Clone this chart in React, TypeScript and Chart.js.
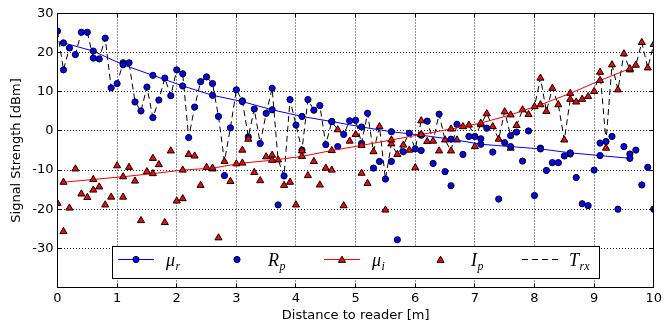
import React, { useEffect, useRef } from 'react';
import { Chart, registerables } from 'chart.js';
import { drawPoint } from 'chart.js/helpers';

Chart.register(...registerables);

// ---------- data ----------
const distances = [
  0, 0.1, 0.2, 0.3, 0.4, 0.5, 0.6, 0.7, 0.8, 0.9,
  1, 1.1, 1.2, 1.3, 1.4, 1.5, 1.6, 1.7, 1.8, 1.9,
  2, 2.1, 2.2, 2.3, 2.4, 2.5, 2.6, 2.7, 2.8, 2.9,
  3, 3.1, 3.2, 3.3, 3.4, 3.5, 3.6, 3.7, 3.8, 3.9,
  4, 4.1, 4.2, 4.3, 4.4, 4.5, 4.6, 4.7, 4.8, 4.9,
  5, 5.1, 5.2, 5.3, 5.4, 5.5, 5.6, 5.7, 5.8, 5.9,
  6, 6.1, 6.2, 6.3, 6.4, 6.5, 6.6, 6.7, 6.8, 6.9,
  7, 7.1, 7.2, 7.3, 7.4, 7.5, 7.6, 7.7, 7.8, 7.9,
  8, 8.1, 8.2, 8.3, 8.4, 8.5, 8.6, 8.7, 8.8, 8.9,
  9, 9.1, 9.2, 9.3, 9.4, 9.5, 9.6, 9.7, 9.8, 9.9,
  10,
];

const rpValues = [
  25.5, 15.6, 21.2, 19.5, 25.2, 25.2, 18.6, 18.4, 23.7, 11.0,
  12.1, 17.4, 17.4, 7.4, 5.1, 11.2, 3.4, 7.9, 13.5, 9.0,
  15.6, 14.6, -1.7, 6.1, 12.6, 13.8, 12.1, 3.7, -11.4, 0.8,
  10.5, 7.7, -1.5, 5.6, -3.2, 4.5, 10.9, -18.9, -11.5, 8.0,
  1.5, -4.9, 8.0, 5.3, 6.5, -3.5, 2.4, -4.0, -0.9, 2.6,
  2.7, -3.2, 4.5, -9.5, -7.8, -12.3, -7.8, -27.8, -5.3, -0.6,
  -4.6, -5.0, 2.5, -8.3, 4.3, -10.4, -14.0, 1.7, -6.0, -1.4,
  -1.4, -2.0, 0.7, -5.4, -17.4, -3.0, -1.2, -0.3, -7.7, 0.0,
  -16.5, -4.4, -10.1, -8.1, -8.1, -6.4, -5.9, -11.9, -18.6, -19.1,
  -10.0, -3.1, -2.7, -1.4, -20.0, -4.0, -5.9, -4.9, -13.8, -9.3,
  -20.0,
];

const ipValues = [
  -18.5, -25.7, -19.7, -9.7, -16.1, -17.0, -15.1, -14.3, -18.9, -16.9,
  -8.9, -16.9, -9.3, -12.8, -22.9, -10.4, -7.0, -8.6, -23.4, -5.1,
  -17.9, -17.3, -6.0, -6.4, -13.9, -9.3, -9.7, -27.3, -7.8, -12.9,
  -8.4, -4.9, -2.1, -10.6, -12.7, -6.6, -6.2, -7.4, -13.9, -13.1,
  -18.9, -5.1, -11.4, -7.8, -13.8, -9.5, -10.0, 0.3, -19.1, -2.6,
  -0.9, -10.8, -13.4, -5.3, 1.1, -20.2, -3.3, -6.0, -3.6, -4.9,
  -9.4, 2.6, -2.7, -2.6, -5.1, -2.3, -5.1, -2.3, 1.1, 1.5,
  -4.0, 1.6, 4.4, 1.1, -2.1, 4.9, -4.4, 1.4, 5.4, 4.2,
  6.2, 13.5, 5.0, 10.9, 6.7, -2.3, 8.1, 7.4, 8.1, 8.8,
  10.1, 15.0, -4.4, 16.9, 10.5, 19.7, 15.6, 16.8, 22.6, 16.1,
  22.1,
];

const meanDistances = [0.1, 0.6, 1.1, 1.6, 2.1, 2.6, 3.1, 3.6, 4.1, 4.6, 5.1, 5.6, 6.1, 6.6, 7.1, 7.6, 8.1, 8.6, 9.1, 9.6];
const muRValues = [22.5, 20.4, 16.9, 14.2, 11.5, 9.1, 7.5, 5.4, 3.7, 2.4, 1.0, -0.2, -1.1, -2.1, -3.4, -4.0, -4.6, -5.6, -6.3, -7.0];
const muIValues = [-13.1, -12.4, -11.7, -10.9, -10.0, -9.5, -8.2, -7.5, -6.5, -5.0, -3.7, -2.3, -0.9, 0.5, 2.0, 4.1, 6.7, 9.6, 12.9, 15.9];

const xTickValues = [0, 1, 2, 3, 4, 5, 6, 7, 8, 9, 10];
const yTickValues = [-40, -30, -20, -10, 0, 10, 20, 30];
const yTickLabels = ['', '-30', '-20', '-10', '0', '10', '20', '30'];

const xTitle = 'Distance to reader [m]';
const yTitle = 'Signal Strength [dBm]';

const legendLabels = [
  { main: 'μ', sub: 'r' },
  { main: 'R', sub: 'p' },
  { main: 'μ', sub: 'i' },
  { main: 'I', sub: 'p' },
  { main: 'T', sub: 'rx' },
];

// ---------- style ----------
const BLUE = '#0000ff';
const RED = '#ff0000';
const BLACK = '#000000';
const CIRCLE_R = 3.1;
const TRI_R = 4.1;
const TICK_FONT = { family: '"DejaVu Sans", sans-serif', size: 13 };

const toPoints = (xs: number[], ys: number[]) => xs.map((x, i) => ({ x, y: ys[i] }));
const trxValues = rpValues.map((r, i) => Math.max(r, ipValues[i]));

const align = (p: number) => Math.round(p - 0.5) + 0.5;

const framePlugin = {
  id: 'mplFrame',
  afterDatasetsDraw(chart: any) {
    const { ctx, chartArea: a, scales } = chart;
    ctx.save();
    ctx.strokeStyle = BLACK;
    ctx.lineWidth = 1;
    ctx.setLineDash([]);
    const L = align(a.left), R = align(a.right), T = align(a.top), B = align(a.bottom);
    ctx.strokeRect(L, T, R - L, B - T);
    const tl = 4;
    ctx.beginPath();
    xTickValues.forEach((v) => {
      const px = align(scales.x.getPixelForValue(v));
      ctx.moveTo(px, B); ctx.lineTo(px, B - tl);
      ctx.moveTo(px, T); ctx.lineTo(px, T + tl);
    });
    yTickValues.forEach((v) => {
      const py = align(scales.y.getPixelForValue(v));
      ctx.moveTo(L, py); ctx.lineTo(L + tl, py);
      ctx.moveTo(R, py); ctx.lineTo(R - tl, py);
    });
    ctx.stroke();
    ctx.restore();
  },
};

const legendPlugin = {
  id: 'mplLegend',
  afterDraw(chart: any) {
    const ctx = chart.ctx;
    ctx.save();
    const bx = 112.5, by = 246.5, bw = 487, bh = 32;
    ctx.fillStyle = '#ffffff';
    ctx.fillRect(bx, by, bw, bh);
    ctx.strokeStyle = BLACK;
    ctx.lineWidth = 1;
    ctx.strokeRect(bx, by, bw, bh);
    const cy = 259.5;

    const seg = (x0: number, x1: number, color: string, dash: number[]) => {
      ctx.save();
      ctx.strokeStyle = color;
      ctx.lineWidth = 1;
      ctx.setLineDash(dash);
      ctx.beginPath();
      ctx.moveTo(x0, cy);
      ctx.lineTo(x1, cy);
      ctx.stroke();
      ctx.restore();
    };
    const marker = (x: number, style: string, color: string) => {
      ctx.save();
      ctx.fillStyle = color;
      ctx.strokeStyle = BLACK;
      ctx.lineWidth = 1;
      drawPoint(ctx, { pointStyle: style, radius: style === 'circle' ? CIRCLE_R : TRI_R, rotation: 0, borderWidth: 1 } as any, x, style === 'circle' ? cy : cy + 0.8);
      ctx.restore();
    };
    const label = (x: number, idx: number) => {
      const { main, sub } = legendLabels[idx];
      ctx.save();
      ctx.fillStyle = BLACK;
      ctx.textBaseline = 'alphabetic';
      ctx.textAlign = 'left';
      ctx.font = 'italic 18px "Liberation Serif", "DejaVu Serif", serif';
      ctx.fillText(main, x, 265.5);
      const w = ctx.measureText(main).width;
      ctx.font = 'italic 12px "Liberation Serif", "DejaVu Serif", serif';
      ctx.fillText(sub, x + w + 0.5, 269.5);
      ctx.restore();
    };

    seg(118, 154, BLUE, []);
    marker(136, 'circle', BLUE);
    label(166, 0);

    marker(237, 'circle', BLUE);
    label(268, 1);

    seg(324, 360, RED, []);
    marker(342, 'triangle', RED);
    label(372, 2);

    marker(440.5, 'triangle', RED);
    label(471, 3);

    seg(522, 558, BLACK, [6, 4]);
    label(569, 4);
    ctx.restore();
  },
};

export default function App() {
  const ref = useRef<HTMLCanvasElement | null>(null);

  useEffect(() => {
    document.body.style.margin = '0';
    const canvas = ref.current;
    if (!canvas) return;

    const chart = new Chart(canvas, {
      type: 'scatter',
      data: {
        datasets: [
          {
            label: 'Trx',
            data: toPoints(distances, trxValues),
            showLine: true,
            borderColor: BLACK,
            borderWidth: 1,
            borderDash: [6, 4],
            pointRadius: 0,
            pointHoverRadius: 0,
            fill: false,
            order: 5,
            clip: 0,
          },
          {
            label: 'Rp',
            data: toPoints(distances, rpValues),
            showLine: false,
            pointStyle: 'circle',
            pointRadius: CIRCLE_R,
            backgroundColor: BLUE,
            borderColor: BLACK,
            borderWidth: 1,
            order: 4,
            clip: 0,
          },
          {
            label: 'Ip',
            data: toPoints(distances, ipValues),
            showLine: false,
            pointStyle: 'triangle',
            pointRadius: TRI_R,
            backgroundColor: RED,
            borderColor: BLACK,
            borderWidth: 1,
            order: 3,
            clip: 0,
          },
          {
            label: 'mu_r',
            data: toPoints(meanDistances, muRValues),
            showLine: true,
            borderColor: BLUE,
            borderWidth: 1,
            backgroundColor: BLUE,
            pointStyle: 'circle',
            pointRadius: CIRCLE_R,
            pointBackgroundColor: BLUE,
            pointBorderColor: BLACK,
            pointBorderWidth: 1,
            fill: false,
            tension: 0,
            order: 2,
            clip: 0,
          },
          {
            label: 'mu_i',
            data: toPoints(meanDistances, muIValues),
            showLine: true,
            borderColor: RED,
            borderWidth: 1,
            backgroundColor: RED,
            pointStyle: 'triangle',
            pointRadius: TRI_R,
            pointBackgroundColor: RED,
            pointBorderColor: BLACK,
            pointBorderWidth: 1,
            fill: false,
            tension: 0,
            order: 1,
            clip: 0,
          },
        ],
      },
      options: {
        animation: false,
        responsive: false,
        devicePixelRatio: 1,
        events: [],
        layout: { padding: { top: 13.5, right: 10.5, left: 0, bottom: 0 } },
        plugins: {
          legend: { display: false },
          tooltip: { enabled: false },
          title: { display: false },
        },
        scales: {
          x: {
            type: 'linear',
            min: 0,
            max: 10,
            afterBuildTicks: (s: any) => {
              s.ticks = xTickValues.map((v) => ({ value: v }));
            },
            afterFit: (s: any) => {
              s.height = 34.5;
            },
            ticks: {
              color: BLACK,
              font: TICK_FONT,
              padding: 3,
              maxRotation: 0,
              autoSkip: false,
              callback: (v: any) => String(v),
            },
            grid: {
              color: 'rgba(0,0,0,0.85)',
              lineWidth: 1,
              drawTicks: false,
            },
            border: { display: false, dash: [1, 2] },
            title: {
              display: true,
              text: xTitle,
              color: BLACK,
              font: TICK_FONT,
              padding: { top: 0, bottom: -1 },
            },
          },
          y: {
            type: 'linear',
            min: -40,
            max: 30,
            afterBuildTicks: (s: any) => {
              s.ticks = yTickValues.map((v) => ({ value: v }));
            },
            afterFit: (s: any) => {
              s.width = 57.5;
            },
            ticks: {
              color: BLACK,
              font: TICK_FONT,
              padding: 4,
              autoSkip: false,
              callback: (v: any) => {
                const i = yTickValues.indexOf(Number(v));
                return i >= 0 ? yTickLabels[i] : '';
              },
            },
            grid: {
              color: 'rgba(0,0,0,0.85)',
              lineWidth: 1,
              drawTicks: false,
            },
            border: { display: false, dash: [1, 2] },
            title: {
              display: true,
              text: yTitle,
              color: BLACK,
              font: TICK_FONT,
              padding: { top: 9, bottom: 0 },
            },
          },
        },
      } as any,
      plugins: [framePlugin, legendPlugin],
    });

    return () => chart.destroy();
  }, []);

  return (
    <div style={{ width: 665, height: 322 }}>
      <canvas ref={ref} width={665} height={322} style={{ display: 'block' }} />
    </div>
  );
}
